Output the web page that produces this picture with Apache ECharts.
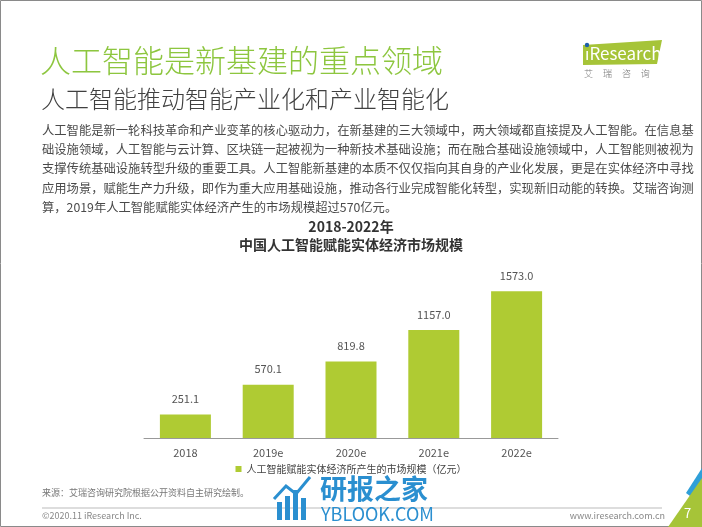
<!DOCTYPE html>
<html>
<head>
<meta charset="utf-8">
<script src="https://cdn.jsdelivr.net/npm/echarts@6/dist/echarts.min.js"></script>
<style>
html, body { margin: 0; padding: 0; background: #fff; }
#main { width: 702px; height: 527px; }
</style>
</head>
<body>
<div id="main"></div>
<script>
var years = ['2018', '2019e', '2020e', '2021e', '2022e'];
var marketSize = [251.1, 570.1, 819.8, 1157.0, 1573.0];
var seriesName = '人工智能赋能实体经济所产生的市场规模（亿元）';

var paragraph = [
	'人工智能是新一轮科技革命和产业变革的核心驱动力，在新基建的三大领域中，两大领域都直接提及人工智能。在信息基',
	'础设施领域，人工智能与云计算、区块链一起被视为一种新技术基础设施；而在融合基础设施领域中，人工智能则被视为',
	'支撑传统基础设施转型升级的重要工具。人工智能新基建的本质不仅仅指向其自身的产业化发展，更是在实体经济中寻找',
	'应用场景，赋能生产力升级，即作为重大应用基础设施，推动各行业完成智能化转型，实现新旧动能的转换。艾瑞咨询测',
	'算，2019年人工智能赋能实体经济产生的市场规模超过570亿元。'
];

var font = '"Noto Sans CJK SC", "Noto Sans", sans-serif';
var green = '#afcb33';

var myChart = echarts.init(document.getElementById('main'));

var graphics = [
	// 外框
	{ type: 'rect', shape: { x: 0.5, y: 0.5, width: 701, height: 526 }, style: { fill: 'none', stroke: '#8a8a8a', lineWidth: 1 } },
	// 标题
	{ type: 'text', left: 40, top: 45, style: { text: '人工智能是新基建的重点领域', font: '300 31px ' + font, fill: '#8dc63f' } },
	{ type: 'text', left: 41, top: 87, style: { text: '人工智能推动智能产业化和产业智能化', font: '300 24px ' + font, fill: '#404040' } },
	// logo
	{ type: 'polygon', shape: { points: [[583, 45], [662, 40], [657, 64], [583, 65]] }, style: { fill: '#a6c438' } },
	{ type: 'text', left: 585, top: 45, style: { text: 'ıResearch', font: '400 17px ' + font, fill: '#fff' } },
	{ type: 'circle', shape: { cx: 587, cy: 45, r: 2.2 }, style: { fill: '#1d5fa8' }, z: 100 },
	{ type: 'text', left: 584, top: 69, style: { text: '艾     瑞     咨     询', font: '300 9px ' + font, fill: '#777' } },
	// 图表标题
	{ type: 'text', left: 'center', top: 220, style: { text: '2018-2022年', font: 'bold 14px ' + font, fill: '#333', align: 'center' } },
	{ type: 'text', left: 'center', top: 238, style: { text: '中国人工智能赋能实体经济市场规模', font: 'bold 14px ' + font, fill: '#333', align: 'center' } },
	// 来源和页脚
	{ type: 'text', left: 42, top: 488, style: { text: '来源：艾瑞咨询研究院根据公开资料自主研究绘制。', font: '400 9px ' + font, fill: '#777' } },
	{ type: 'line', shape: { x1: 42, y1: 508, x2: 662, y2: 508 }, style: { stroke: '#bbb', lineWidth: 1 } },
	{ type: 'text', left: 42, top: 511, style: { text: '©2020.11 iResearch Inc.', font: '400 9px ' + font, fill: '#888' } },
	{ type: 'text', right: 37, top: 511, style: { text: 'www.iresearch.com.cn', font: '400 9px ' + font, fill: '#888' } },
	{ type: 'polygon', shape: { points: [[702, 468], [702, 505], [686, 493]] }, style: { fill: '#2f9fd8' } },
	{ type: 'polygon', shape: { points: [[702, 478], [702, 527], [668, 527]] }, style: { fill: '#a6c438' } },
	{ type: 'text', left: 684, top: 507, style: { text: '7', font: '400 13px ' + font, fill: '#fff' } },
	// 水印
	{ type: 'rect', shape: { x: 277, y: 502, width: 5, height: 18 }, style: { fill: '#2a8fd0' } },
	{ type: 'rect', shape: { x: 285, y: 496, width: 5, height: 24 }, style: { fill: '#2a8fd0' } },
	{ type: 'rect', shape: { x: 293, y: 490, width: 5, height: 30 }, style: { fill: '#2a8fd0' } },
	{ type: 'rect', shape: { x: 301, y: 498, width: 5, height: 22 }, style: { fill: '#2a8fd0' } },
	{ type: 'polyline', shape: { points: [[274, 499], [286, 486], [296, 494], [310, 477]] }, style: { stroke: '#2a8fd0', lineWidth: 3, fill: 'none' } },
	{ type: 'text', left: 320, top: 475, style: { text: '研报之家', font: 'bold 27px ' + font, fill: '#2a8fd0' } },
	{ type: 'text', left: 321, top: 505, style: { text: 'YBLOOK.COM', font: '400 18px ' + font, fill: '#2a8fd0' } }
];

for (var i = 0; i < paragraph.length; i++) {
	graphics.push({
		type: 'text', left: 42, top: 124 + i * 19.3,
		style: { text: paragraph[i], font: '400 12.3px ' + font, fill: '#4a4a4a' }
	});
}

var option = {
	animation: false,
	backgroundColor: '#fff',
	grid: { left: 144, right: 144, top: 270, bottom: 89 },
	legend: {
		data: [seriesName],
		bottom: 48,
		left: 'center',
		itemWidth: 6,
		itemHeight: 6,
		icon: 'rect',
		itemGap: 4,
		textStyle: { fontSize: 10, color: '#444', fontFamily: font }
	},
	xAxis: {
		type: 'category',
		data: years,
		axisTick: { show: false },
		axisLine: { lineStyle: { color: '#999', width: 1 } },
		axisLabel: { color: '#555', fontSize: 11, margin: 9, fontFamily: font }
	},
	yAxis: {
		type: 'value',
		min: 0,
		max: 1800,
		show: false,
		splitLine: { show: false }
	},
	series: [{
		name: seriesName,
		type: 'bar',
		data: marketSize,
		barWidth: 51,
		itemStyle: { color: green },
		label: {
			show: true,
			position: 'top',
			distance: 10,
			color: '#555',
			fontSize: 11,
			fontFamily: font,
			formatter: function(p) { return p.value.toFixed(1); }
		}
	}],
	graphic: graphics
};

myChart.setOption(option);
</script>
</body>
</html>
